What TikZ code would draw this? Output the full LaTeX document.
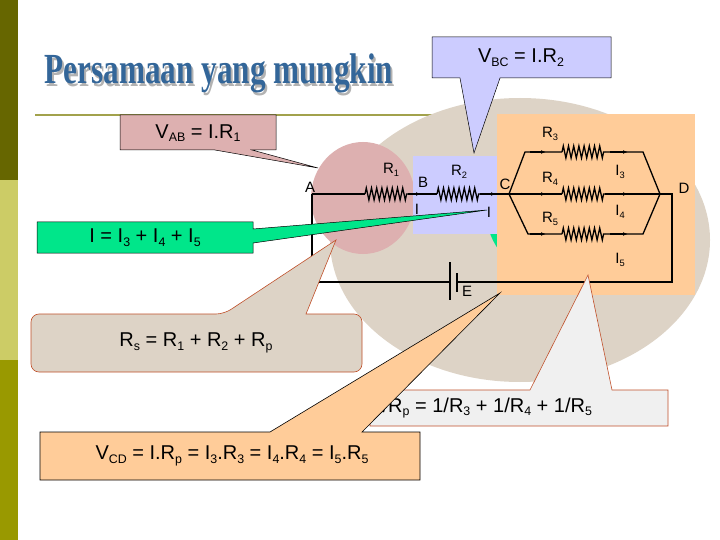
\documentclass[tikz,border=0pt]{standalone}
\usepackage{fontspec}
\setmainfont{Liberation Sans}
\newfontfamily\titlefont{Liberation Serif}
\usetikzlibrary{decorations.pathmorphing,arrows.meta}
\newcommand{\sbs}[1]{\raisebox{-0.35ex}{\fontsize{0.62em}{0.62em}\selectfont #1}}
\definecolor{olivedark}{HTML}{666600}
\definecolor{olivelight}{HTML}{CCCC66}
\definecolor{olivemid}{HTML}{999900}
\definecolor{beige}{HTML}{DDD3C6}
\definecolor{pinkc}{HTML}{DDB0B0}
\definecolor{lblue}{HTML}{CCCCFF}
\definecolor{orng}{HTML}{FFCC99}
\definecolor{grn}{HTML}{00E68A}
\definecolor{brn}{HTML}{C0502A}
\definecolor{tblue}{HTML}{336699}
\tikzset{
  res/.style={decorate,decoration={zigzag,amplitude=6pt,segment length=5.2pt}},
  wire/.style={line width=1.3pt},
  lbl/.style={font=\fontsize{15}{15}\selectfont,inner sep=0pt},
  eq/.style={font=\fontsize{20}{20}\selectfont},
  arr/.style={-{Latex[length=5pt]}}
}
\begin{document}
\begin{tikzpicture}[x=1pt,y=-1pt]
\useasboundingbox (0,0) rectangle (720,540);
\fill[white] (0,0) rectangle (720,540);
% side bar
\fill[olivedark] (0,0) rectangle (18,180);
\fill[olivelight] (0,180) rectangle (18,360);
\fill[olivemid] (0,360) rectangle (18,540);
% title
\fill[olivemid!80!black!70] (35,114) rectangle (670,116.5);
\fill[beige] (520,240) ellipse (190 and 142);
\node (shadow) [text=gray!60,inner sep=0pt] at (221,76) {\scalebox{0.8}[1.1]{\titlefont\bfseries\fontsize{39}{39}\selectfont Persamaan yang mungkin}};
\node (title) [text=tblue,inner sep=0pt] at (219,73) {\scalebox{0.8}[1.1]{\titlefont\bfseries\fontsize{39}{39}\selectfont Persamaan yang mungkin}};
% backgrounds
\fill[grn] (540,205) ellipse (55 and 68);
\fill[pinkc] (363,198) ellipse (52 and 56);
\fill[lblue] (413,156) rectangle (497,234);
\fill[orng] (497,114) rectangle (695,295);
% circuit
\coordinate (A) at (312,194);
\coordinate (B) at (421,194);
\coordinate (C) at (509,194);
\coordinate (D) at (660,194);
\coordinate (r1a) at (365,194); \coordinate (r1b) at (408,194);
\coordinate (r2a) at (437,194); \coordinate (r2b) at (480,194);
\draw[wire] (A) -- (r1a);
\draw[wire,res] (r1a) -- (r1b);
\draw[wire] (r1b) -- (B);
\draw[wire] (B) -- (r2a);
\draw[wire,res] (r2a) -- (r2b);
\draw[wire] (r2b) -- (C);
\draw[wire,arr] (r1b) -- (B);
\draw[wire,arr] (r2b) -- (496,194);
% branches
\coordinate (t1) at (525,152); \coordinate (t2) at (643,152);
\coordinate (b1) at (528,234); \coordinate (b2) at (643,234);
\draw[wire] (C) -- (t1) -- (562,152);
\draw[wire,res] (562,152) -- (605,152);
\draw[wire] (605,152) -- (t2) -- (D);
\draw[wire] (C) -- (562,194);
\draw[wire,res] (562,194) -- (605,194);
\draw[wire] (605,194) -- (D);
\draw[wire] (C) -- (b1) -- (562,234);
\draw[wire,res] (562,234) -- (605,234);
\draw[wire] (605,234) -- (b2) -- (D);
\foreach \y in {152,194,234}{
  \draw[wire,arr] (530,\y) -- (546,\y);
  \draw[wire,arr] (610,\y) -- (628,\y);
}
% return loop with battery
\coordinate (Dr) at (672,194);
\coordinate (E1) at (450,282);
\coordinate (E2) at (457,282);
\draw[wire] (D) -- (Dr) -- (672,282) -- (E2);
\draw[wire] (E1) -- (312,282) -- (A);
\draw[line width=1.3pt] (450,262) -- (450,300);
\draw[line width=1.3pt] (457,273) -- (457,292);
% labels
\node[lbl] (lA) at (310,187) {A};
\node[lbl] (lB) at (423,182) {B};
\node[lbl] (lC) at (505,184) {C};
\node[lbl] (lD) at (684,188) {D};
\node[lbl] (lE) at (467,291) {E};
\node[lbl] (lR1) at (391,170) {R\sbs{1}};
\node[lbl] (lR2) at (459,172) {R\sbs{2}};
\node[lbl] (lR3) at (550,134) {R\sbs{3}};
\node[lbl] (lR4) at (550,179) {R\sbs{4}};
\node[lbl] (lR5) at (550,219) {R\sbs{5}};
\node[lbl] (lI3) at (620,172) {I\sbs{3}};
\node[lbl] (lI4) at (620,212) {I\sbs{4}};
\node[lbl] (lI5) at (620,260) {I\sbs{5}};
\node[lbl] (lIa) at (417,209) {I};
\node[lbl] (lIb) at (489,212) {I};
% callouts
\filldraw[fill=lblue,draw=black,line width=0.5pt] (432,37) -- (611,37) -- (611,78) -- (500,78) -- (474,153) -- (460,78) -- (432,78) -- cycle;
\node[eq] (vbc) at (521,58) {V\sbs{BC} = I.R\sbs{2}};
\filldraw[fill=pinkc,draw=black,line width=0.5pt] (120,115) -- (276,115) -- (276,150) -- (252,150) -- (318,168) -- (215,150) -- (120,150) -- cycle;
\node[eq] (vab) at (198,133) {V\sbs{AB} = I.R\sbs{1}};
\filldraw[fill=grn,draw=black,line width=0.5pt] (37,222) -- (253,222) -- (253,229) -- (487,210) -- (253,243) -- (253,253) -- (37,253) -- cycle;
\node[eq] (isum) at (145,238) {I = I\sbs{3} + I\sbs{4} + I\sbs{5}};
\filldraw[fill=beige,draw=brn,line width=0.6pt,rounded corners=8pt] (31,314) -- (224,314) [sharp corners] -- (336,240) -- (306,314) [rounded corners=8pt] -- (362,314) -- (362,372) -- (31,372) -- cycle;
\node[eq] (rs) at (196,343) {R\sbs{s} = R\sbs{1} + R\sbs{2} + R\sbs{p}};
\filldraw[fill=gray!12,draw=brn,line width=0.6pt] (370,390) -- (530,390) -- (588,275) -- (612,390) -- (668,390) -- (668,426) -- (370,426) -- cycle;
\node[eq,anchor=west] (rp) at (368,408) {1/R\sbs{p} = 1/R\sbs{3} + 1/R\sbs{4} + 1/R\sbs{5}};
\filldraw[fill=orng,draw=black,line width=0.6pt] (40,432) -- (270,432) -- (500,293) -- (362,432) -- (420,432) -- (420,480) -- (40,480) -- cycle;
\node[eq] (vcd) at (232,456) {V\sbs{CD} = I.R\sbs{p} = I\sbs{3}.R\sbs{3} = I\sbs{4}.R\sbs{4} = I\sbs{5}.R\sbs{5}};
\end{tikzpicture}
\end{document}
